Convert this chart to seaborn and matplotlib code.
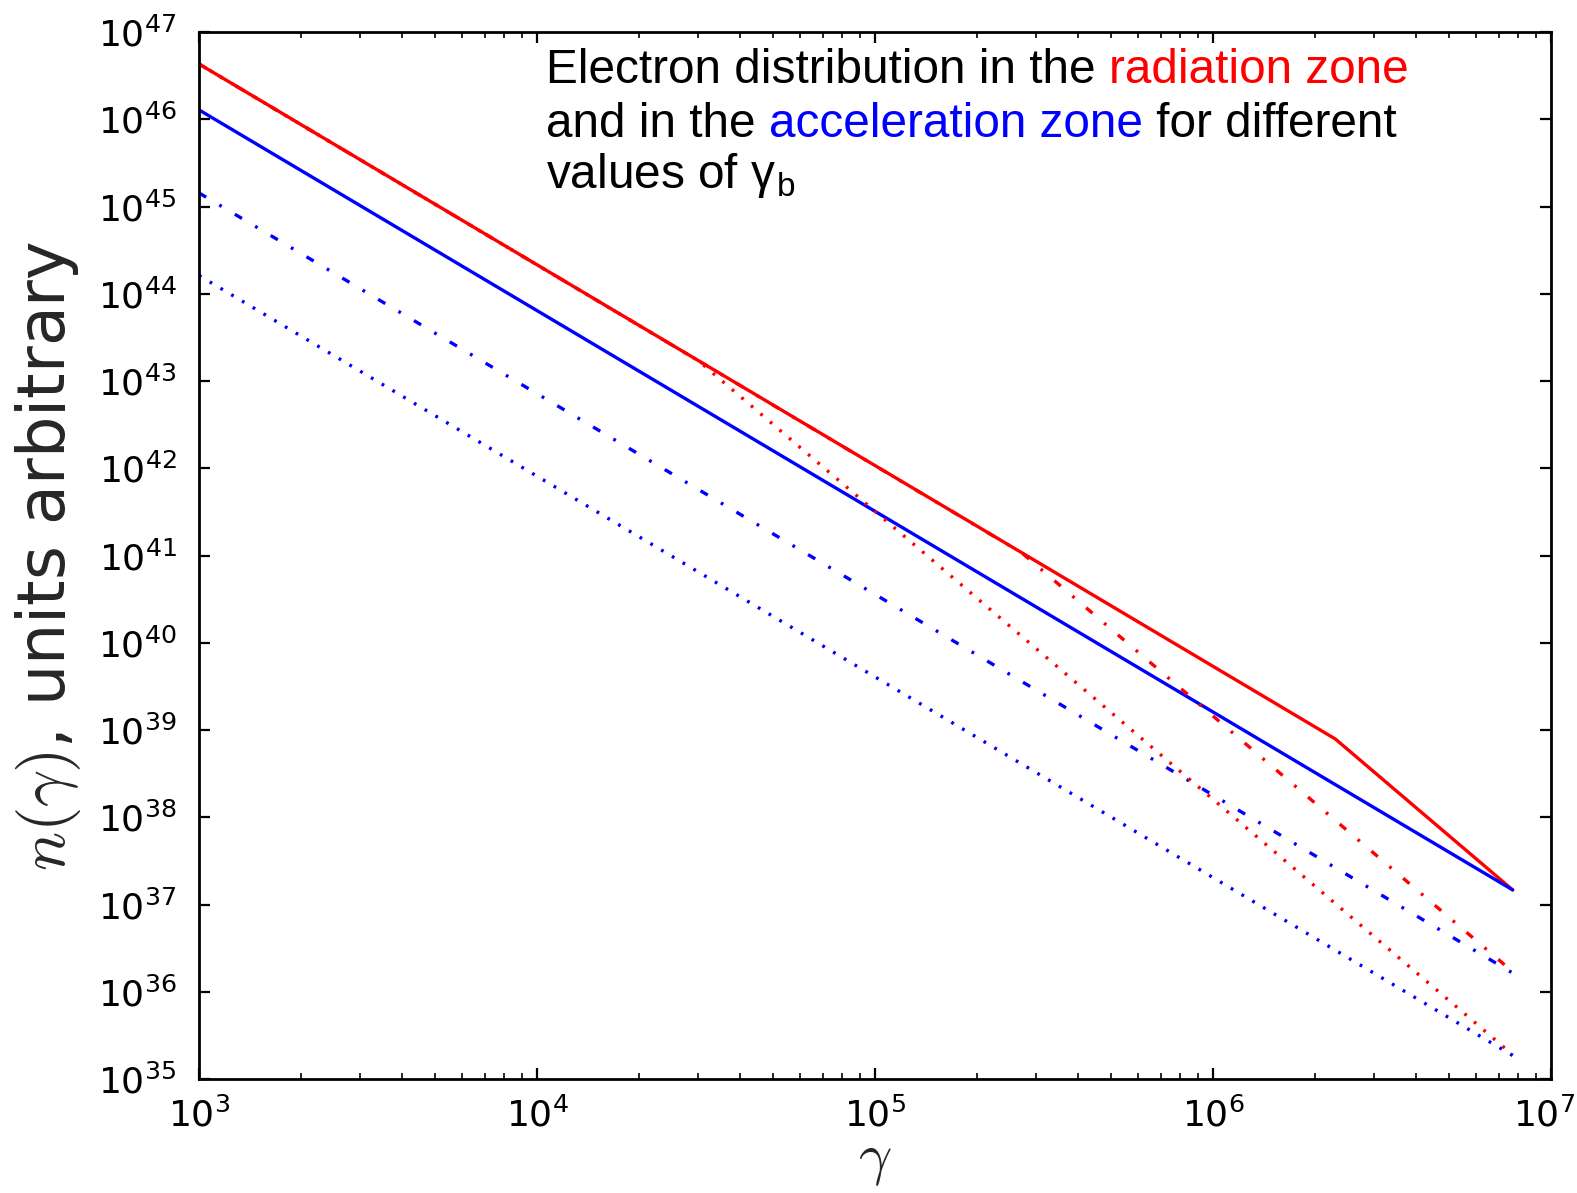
import matplotlib
matplotlib.use("Agg")
import matplotlib.pyplot as plt
import matplotlib.transforms as mtrans
import seaborn as sns
import pandas as pd

# break points (gamma) and electron densities
gamma_red_solid = [1e3, 2.3e6, 7.7e6]
n_red_solid = [4.3e46, 7.9e38, 1.47e37]

gamma_red_dashdot = [1e3, 2.72e5, 7.7e6]
n_red_dashdot = [4.3e46, 1.07e41, 1.7e36]

gamma_red_dotted = [1e3, 3.0e4, 7.7e6]
n_red_dotted = [4.3e46, 1.71e43, 1.9e35]

gamma_blue = [1e3, 7.7e6]
n_blue_solid = [1.28e46, 1.47e37]
n_blue_dashdot = [1.43e45, 1.64e36]
n_blue_dotted = [1.62e44, 1.86e35]

x_ticks = [1e3, 1e4, 1e5, 1e6, 1e7]
y_ticks = [10.0 ** k for k in range(35, 48)]

sns.set_theme(style="ticks")
plt.rcParams["font.family"] = ["DejaVu Sans"]
plt.rcParams["mathtext.fontset"] = "cm"
plt.rcParams["lines.scale_dashes"] = False

fig, ax = plt.subplots(figsize=(1577 / 200, 1193 / 200), dpi=200)
fig.subplots_adjust(left=199 / 1577, right=1551 / 1577, top=1 - 32 / 1193, bottom=1 - 1079 / 1193)

dashdot = (0, (3, 5.5, 1, 5.5))
dotted = (0, (1, 3.5))

series = [
    (gamma_red_solid, n_red_solid, "red", "-"),
    (gamma_blue, n_blue_solid, "blue", "-"),
    (gamma_red_dashdot, n_red_dashdot, "red", dashdot),
    (gamma_blue, n_blue_dashdot, "blue", dashdot),
    (gamma_red_dotted, n_red_dotted, "red", dotted),
    (gamma_blue, n_blue_dotted, "blue", dotted),
]
for g, n, c, ls in series:
    df = pd.DataFrame({"gamma": g, "n": n})
    sns.lineplot(data=df, x="gamma", y="n", ax=ax, color=c, linestyle=ls,
                 linewidth=1.2, sort=False, estimator=None, dash_capstyle="butt")

ax.set_xscale("log")
ax.set_yscale("log")
ax.set_xlim(1e3, 1e7)
ax.set_ylim(1e35, 1e47)
ax.set_yticks(y_ticks)
ax.yaxis.set_minor_locator(matplotlib.ticker.NullLocator())
ax.set_xticks(x_ticks)

for s in ax.spines.values():
    s.set_linewidth(1.0)
    s.set_color("black")
ax.tick_params(which="both", direction="in", top=True, right=True, colors="black", labelsize=13)
ax.tick_params(which="major", length=4, width=0.8, pad=8)
ax.tick_params(axis="x", which="major", pad=6.5)
ax.tick_params(which="minor", length=2, width=0.6)

ax.set_xlabel(r"$\gamma$", fontsize=21)
ax.set_ylabel(r"$n(\gamma)$, units arbitrary", fontsize=23.5)
ax.xaxis.set_label_coords(0.5, -0.050)
ax.yaxis.set_label_coords(-0.086, 0.5)

# multi-coloured annotation, one segment after another
tfont = ["Liberation Sans", "DejaVu Sans"]
lines_txt = [
    [("Electron distribution in the ", "black"), ("radiation zone", "red")],
    [("and in the ", "black"), ("acceleration zone", "blue"), (" for different", "black")],
    [(r"values of γ$_{\mathregular{b}}$", "black")],
]
baselines = [0.951, 0.900, 0.851]
fig.canvas.draw()
renderer = fig.canvas.get_renderer()
for parts, yb in zip(lines_txt, baselines):
    x = 0.2567
    for txt, col in parts:
        t = ax.text(x, yb, txt, transform=ax.transAxes, color=col, fontsize=17.2,
                    family=tfont, va="baseline", ha="left")
        bb = t.get_window_extent(renderer=renderer)
        x = ax.transAxes.inverted().transform((bb.x1, bb.y0))[0]

# keep the 10^7 label inside the canvas
last = ax.get_xticklabels()[-1]
last.set_transform(last.get_transform() + mtrans.ScaledTranslation(-7 / 200, 0, fig.dpi_scale_trans))

fig.savefig("out.png", dpi=200)
